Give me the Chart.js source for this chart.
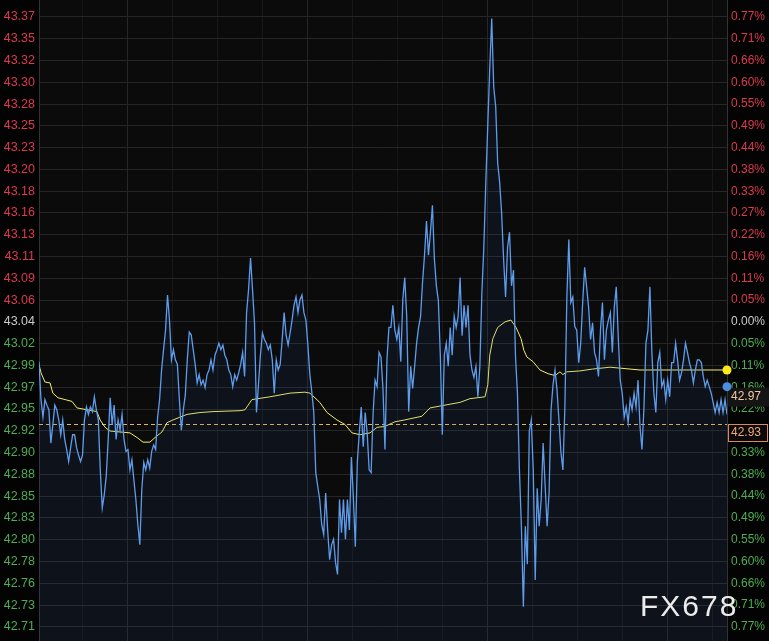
<!DOCTYPE html>
<html>
<head>
<meta charset="utf-8">
<script src="https://cdn.jsdelivr.net/npm/chart.js@4.4.1/dist/chart.umd.min.js"></script>
<style>
  html, body { margin: 0; padding: 0; background: #030303; }
  #wrap { width: 769px; height: 641px; }
</style>
</head>
<body>
<div id="wrap"><canvas id="c" width="769" height="641"></canvas></div>
<script>
// ---- tick labels ----
const priceLabels = ['43.37','43.35','43.32','43.30','43.28','43.25','43.23','43.20','43.18','43.16','43.13','43.11','43.09','43.06','43.04','43.02','42.99','42.97','42.95','42.92','42.90','42.88','42.85','42.83','42.80','42.78','42.76','42.73','42.71'];
const pctLabels = ['0.77%','0.71%','0.66%','0.60%','0.55%','0.49%','0.44%','0.38%','0.33%','0.27%','0.22%','0.16%','0.11%','0.05%','0.00%','0.05%','0.11%','0.16%','0.22%','0.27%','0.33%','0.38%','0.44%','0.49%','0.55%','0.60%','0.66%','0.71%','0.77%'];
const basePrice = 43.04;     // 0.00% level
const tickStep = 0.02355;    // price step between ticks
const yMin = 42.695, yMax = 43.388;
const refPrice = 42.93;      // dashed reference line
const lastPrice = 42.97;     // last price marker

// ---- price series (minute data) ----
const prices = [
42.997,42.956,42.937,42.956,42.950,42.945,42.909,42.929,42.950,42.945,
42.934,42.918,42.934,42.913,42.902,42.889,42.904,42.918,42.918,42.904,
42.896,42.889,42.896,42.934,42.948,42.940,42.948,42.943,42.959,42.945,
42.934,42.880,42.839,42.853,42.873,42.913,42.958,42.929,42.950,42.913,
42.934,42.923,42.940,42.913,42.900,42.902,42.880,42.891,42.869,42.848,
42.821,42.799,42.859,42.888,42.880,42.891,42.882,42.900,42.907,42.902,
42.937,42.956,42.988,43.010,43.031,43.069,43.042,42.999,43.010,42.999,
42.994,42.956,42.923,42.945,42.961,42.999,43.029,43.026,43.010,42.994,
42.974,42.983,42.972,42.977,42.969,42.983,42.988,42.999,42.988,43.004,
43.010,43.017,43.010,43.015,43.004,42.999,42.988,42.983,42.970,42.983,
42.977,42.985,42.994,43.007,42.981,43.050,43.075,43.109,43.075,43.039,
42.942,42.972,43.004,43.028,43.021,43.017,43.010,43.015,42.999,42.963,
42.999,42.988,42.994,43.021,43.050,43.026,43.015,43.028,43.042,43.058,
43.067,43.050,43.064,43.069,43.050,43.042,43.015,42.983,42.964,42.942,
42.877,42.862,42.848,42.821,42.810,42.855,42.815,42.783,42.799,42.805,
42.780,42.767,42.848,42.812,42.848,42.805,42.848,42.815,42.894,42.851,
42.797,42.888,42.920,42.948,42.905,42.942,42.920,42.880,42.877,42.942,
42.977,42.970,43.007,43.002,42.967,42.902,42.999,43.034,43.034,43.058,
43.031,43.021,43.034,42.997,43.064,43.088,43.046,42.943,42.992,42.968,
42.992,43.017,43.034,43.046,43.083,43.112,43.149,43.112,43.137,43.166,
43.108,43.079,43.063,43.004,42.918,43.004,43.017,42.992,43.034,43.004,
43.046,43.034,43.046,43.088,43.025,43.058,43.034,43.058,43.004,42.988,
42.980,42.992,42.959,42.992,43.071,43.121,43.191,43.253,43.315,43.368,
43.294,43.273,43.212,43.191,43.158,43.108,43.067,43.121,43.137,43.079,
43.096,43.004,42.963,42.880,42.819,42.732,42.819,42.778,42.922,42.934,
42.880,42.761,42.860,42.819,42.848,42.909,42.864,42.819,42.855,42.945,
42.972,42.988,42.967,42.934,42.899,42.880,42.948,43.067,43.129,43.061,
43.067,43.035,43.031,42.996,43.017,43.061,43.099,43.078,43.056,43.021,
43.039,43.007,42.999,42.981,43.031,43.061,42.999,43.031,43.042,43.050,
43.007,43.056,43.078,43.024,42.977,42.963,42.937,42.948,42.931,42.956,
42.945,42.963,42.948,42.977,42.927,42.902,42.948,43.017,43.031,43.078,
43.007,42.963,42.942,42.996,43.007,42.970,42.977,42.956,42.977,42.959,
42.996,42.996,43.017,42.999,42.977,42.985,42.999,43.017,43.007,42.996,
42.988,42.974,42.988,42.999,42.999,42.996,42.981,42.970,42.977,42.970,
42.963,42.953,42.942,42.953,42.942,42.956,42.942,42.956,42.940
];

// ---- average price line (minute index, value) ----
const avgIdx = [0,1,3,5.6,7,9.6,13.2,16.7,19.2,24.3,29.3,30.9,33.4,35.9,41,46,49.6,52.6,56.1,58.7,62.2,64.7,67.8,71.3,74.9,81.4,88,101.7,104.2,107.7,116.8,127,134.5,137,142,145.7,150.7,154.8,158.3,162.4,167.4,171,175,180,185,193.7,197.8,202.8,213,218,225.6,227,228,229.6,232,235.7,238.7,241.3,243.8,245.3,246.8,249.9,253.4,257.5,261,263.5,265,267,273.6,280,288.8,293.9,304,324,348];
const avgVal = [42.994,42.985,42.975,42.974,42.963,42.958,42.956,42.954,42.947,42.945,42.943,42.934,42.926,42.922,42.921,42.920,42.915,42.910,42.910,42.915,42.921,42.931,42.934,42.937,42.940,42.942,42.943,42.944,42.945,42.956,42.959,42.963,42.964,42.963,42.953,42.942,42.934,42.929,42.920,42.918,42.920,42.926,42.927,42.932,42.934,42.938,42.947,42.949,42.953,42.957,42.959,42.972,43.004,43.022,43.034,43.040,43.042,43.034,43.022,43.009,43.002,42.997,42.988,42.984,42.982,42.986,42.983,42.986,42.987,42.989,42.991,42.990,42.988,42.988,42.988];

const idx = prices.map((_, i) => i);
const avgData = avgIdx.map((x, i) => ({ x: x, y: avgVal[i] }));

const RED = '#dc3a4e', GREEN = '#4fae52', GRAY = '#c9c9c9';
const tickColor = (ctx) => ctx.index < 14 ? RED : (ctx.index === 14 ? GRAY : GREEN);

const overlay = {
  id: 'overlay',
  beforeDraw(chart) {
    const { ctx, chartArea: a } = chart;
    ctx.save();
    ctx.fillStyle = '#030303';
    ctx.fillRect(0, 0, chart.width, chart.height);
    ctx.fillStyle = '#0b0b0c';
    ctx.fillRect(a.left, a.top, a.right - a.left, a.bottom - a.top);
    ctx.restore();
  },
  beforeDatasetsDraw(chart) {
    const { ctx, chartArea: a, scales } = chart;
    const y = Math.round(scales.y.getPixelForValue(refPrice)) + 0.5;
    ctx.save();
    ctx.strokeStyle = '#e6b45a';
    ctx.lineWidth = 1;
    ctx.setLineDash([4, 3]);
    ctx.beginPath();
    ctx.moveTo(a.left, y);
    ctx.lineTo(a.right, y);
    ctx.stroke();
    ctx.restore();
  },
  afterDraw(chart) {
    const { ctx, chartArea: a, scales } = chart;
    const ys = scales.y;
    ctx.save();
    // reference price box
    const yr = ys.getPixelForValue(refPrice);
    ctx.fillStyle = '#0a0a0a';
    ctx.fillRect(a.right + 1, yr, chart.width - a.right - 2, 17);
    ctx.strokeStyle = '#e0875a';
    ctx.lineWidth = 1;
    ctx.strokeRect(a.right + 1.5, Math.round(yr) + 0.5, chart.width - a.right - 3, 17);
    ctx.fillStyle = '#f2a878';
    ctx.font = '12px "Liberation Sans", Arial, sans-serif';
    ctx.textBaseline = 'middle';
    ctx.textAlign = 'left';
    ctx.fillText(refPrice.toFixed(2), a.right + 4, yr + 9);
    // last price label
    const yl = ys.getPixelForValue(lastPrice);
    ctx.fillStyle = '#141414';
    ctx.fillRect(a.right + 1, yl + 1, chart.width - a.right - 1, 19);
    // dots
    const ya = ys.getPixelForValue(avgVal[avgVal.length - 1]);
    ctx.fillStyle = '#ffe81a';
    ctx.beginPath(); ctx.arc(a.right, ya, 4.5, 0, Math.PI * 2); ctx.fill();
    ctx.fillStyle = '#4a8fe0';
    ctx.beginPath(); ctx.arc(a.right, yl, 4.5, 0, Math.PI * 2); ctx.fill();
    ctx.fillStyle = '#efc9a4';
    ctx.fillText(lastPrice.toFixed(2), a.right + 4, yl + 10);
    // watermark
    ctx.fillStyle = '#ececec';
    ctx.font = '30px "Liberation Sans", Arial, sans-serif';
    ctx.textBaseline = 'alphabetic';
    try { ctx.letterSpacing = '2px'; } catch (e) {}
    ctx.fillText('FX678', 640, 616);
    ctx.restore();
  }
};

new Chart(document.getElementById('c'), {
  type: 'line',
  data: {
    labels: idx,
    datasets: [
      {
        label: 'price',
        data: prices,
        borderColor: '#5e9cec',
        borderWidth: 1.3,
        pointRadius: 0,
        tension: 0,
        fill: 'start',
        backgroundColor: 'rgba(50,90,170,0.10)',
        yAxisID: 'y',
        xAxisID: 'x'
      },
      {
        label: 'avg',
        data: avgData,
        borderColor: '#f2ee6a',
        borderWidth: 1,
        pointRadius: 0,
        tension: 0,
        fill: false,
        yAxisID: 'y',
        xAxisID: 'x'
      }
    ]
  },
  options: {
    responsive: false,
    animation: false,
    devicePixelRatio: 1,
    layout: { padding: 0 },
    plugins: { legend: { display: false }, tooltip: { enabled: false } },
    scales: {
      x: { type: 'linear', display: false, min: 0, max: prices.length - 1 },
      xg: {
        type: 'linear', position: 'bottom', min: 0.044, max: 15.333,
        afterBuildTicks: (s) => { s.ticks = [1,2,3,4,5,6,7,8,9,10,11,12,13,14,15].map(v => ({ value: v })); },
        ticks: { display: false },
        border: { display: false },
        grid: { drawTicks: false, color: (c) => (c.tick && c.tick.value % 4 === 2) ? '#262626' : '#171717', lineWidth: 1 }
      },
      y: {
        position: 'left', min: yMin, max: yMax,
        afterBuildTicks: (s) => { s.ticks = priceLabels.map((_, i) => ({ value: basePrice + (14 - i) * tickStep })); },
        afterFit: (s) => { s.width = 39; s.paddingTop = 0; s.paddingBottom = 0; },
        ticks: {
          callback: (v, i) => priceLabels[i],
          color: tickColor,
          padding: 4,
          font: { family: '"Liberation Sans", Arial, sans-serif', size: 12.5 }
        },
        grid: { drawTicks: false, color: '#262626', lineWidth: 1 },
        border: { display: true, color: '#333333' }
      },
      y1: {
        position: 'right', min: yMin, max: yMax,
        afterBuildTicks: (s) => { s.ticks = pctLabels.map((_, i) => ({ value: basePrice + (14 - i) * tickStep })); },
        afterFit: (s) => { s.width = 42; s.paddingTop = 0; s.paddingBottom = 0; },
        ticks: {
          callback: (v, i) => pctLabels[i],
          color: tickColor,
          padding: 4,
          font: { family: '"Liberation Sans", Arial, sans-serif', size: 12 }
        },
        grid: { drawOnChartArea: false, drawTicks: false },
        border: { display: true, color: '#333333' }
      }
    }
  },
  plugins: [overlay]
});
</script>
</body>
</html>
